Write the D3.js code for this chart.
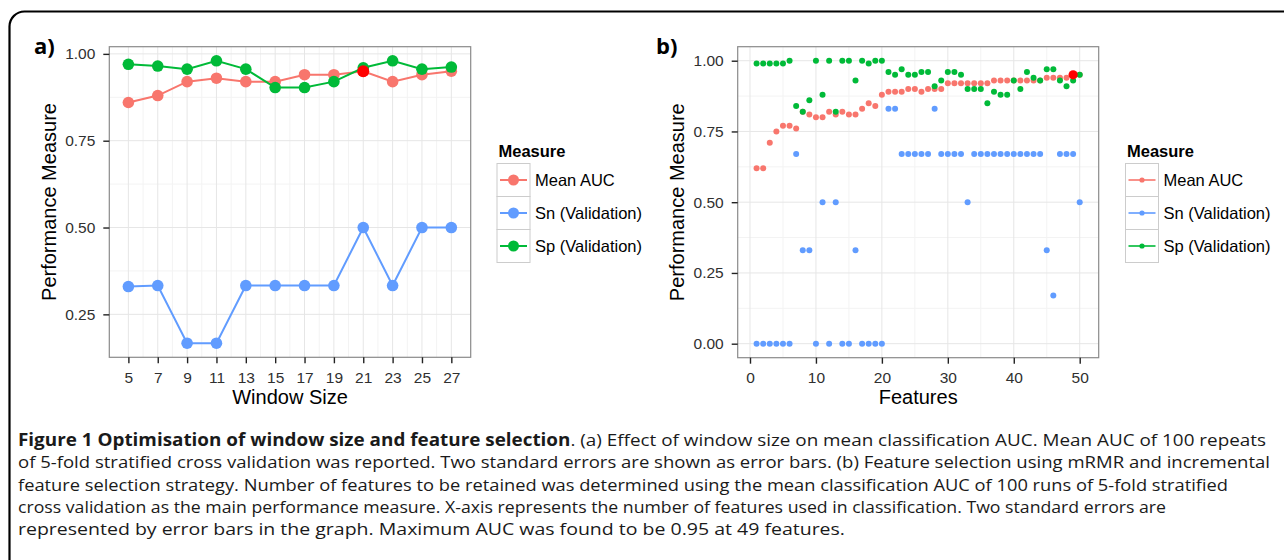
<!DOCTYPE html>
<html>
<head>
<meta charset="utf-8">
<script src="https://cdn.jsdelivr.net/npm/d3@7"></script>
<style>
  body { margin: 0; background: #fff; }
  svg { display: block; }
  text { font-family: "Liberation Sans", Arial, Helvetica, sans-serif; }
</style>
</head>
<body>
<div id="fig"></div>
<script>
// legend / series
const measures = ["Mean AUC", "Sn (Validation)", "Sp (Validation)"];
const colours = ["#F8766D", "#619CFF", "#00BA38"];

// panel a: window size
const windowSizes = [5, 7, 9, 11, 13, 15, 17, 19, 21, 23, 25, 27];
const windowAuc = [0.86, 0.88, 0.92, 0.93, 0.92, 0.92, 0.94, 0.94, 0.95, 0.92, 0.94, 0.95];
const windowSn = [0.33, 0.333, 0.167, 0.167, 0.333, 0.333, 0.333, 0.333, 0.5, 0.333, 0.5, 0.5];
const windowSp = [0.97, 0.965, 0.956, 0.98, 0.956, 0.903, 0.903, 0.92, 0.96, 0.98, 0.956, 0.962];
const bestWindow = 21;
const windowTicks = windowSizes;
const windowMinor = [6, 8, 10, 12, 14, 16, 18, 20, 22, 24, 26];

// panel b: feature selection
const features = [1, 2, 3, 4, 5, 6, 7, 8, 9, 10, 11, 12, 13, 14, 15, 16, 17, 18, 19, 20,
  21, 22, 23, 24, 25, 26, 27, 28, 29, 30, 31, 32, 33, 34, 35, 36, 37, 38, 39, 40,
  41, 42, 43, 44, 45, 46, 47, 48, 49, 50];
const featureAuc = [0.62, 0.62, 0.71, 0.75, 0.77, 0.77, 0.76, 0.82, 0.81, 0.80,
  0.80, 0.82, 0.81, 0.82, 0.81, 0.81, 0.83, 0.85, 0.84, 0.88,
  0.89, 0.89, 0.89, 0.90, 0.90, 0.89, 0.90, 0.90, 0.90, 0.92,
  0.92, 0.92, 0.92, 0.92, 0.92, 0.92, 0.93, 0.93, 0.93, 0.93,
  0.93, 0.93, 0.93, 0.93, 0.94, 0.94, 0.94, 0.94, 0.95, 0.95];
const featureSn = [0, 0, 0, 0, 0, 0, 0.67, 0.33, 0.33, 0,
  0.5, 0, 0.5, 0, 0, 0.33, 0, 0, 0, 0,
  0.83, 0.83, 0.67, 0.67, 0.67, 0.67, 0.67, 0.83, 0.67, 0.67,
  0.67, 0.67, 0.5, 0.67, 0.67, 0.67, 0.67, 0.67, 0.67, 0.67,
  0.67, 0.67, 0.67, 0.67, 0.33, 0.17, 0.67, 0.67, 0.67, 0.5];
const featureSp = [0.99, 0.99, 0.99, 0.99, 0.99, 1, 0.84, 0.82, 0.86, 1,
  0.88, 1, 0.82, 1, 1, 0.93, 1, 0.99, 1, 1,
  0.96, 0.95, 0.97, 0.95, 0.95, 0.96, 0.96, 0.91, 0.93, 0.96,
  0.96, 0.95, 0.90, 0.90, 0.90, 0.85, 0.89, 0.88, 0.88, 0.93,
  0.90, 0.96, 0.94, 0.93, 0.97, 0.97, 0.93, 0.91, 0.93, 0.95];
const bestFeatures = 49;
const featureTicks = [0, 10, 20, 30, 40, 50];
const featureMinor = [5, 15, 25, 35, 45];

const measureTicks = [0, 0.25, 0.5, 0.75, 1];
const measureMinor = [0.125, 0.375, 0.625, 0.875];

const captionLines = [
  [["Figure 1 Optimisation of window size and feature selection", true],
   [". (a) Effect of window size on mean classification AUC. Mean AUC of 100 repeats", false]],
  [["of 5-fold stratified cross validation was reported. Two standard errors are shown as error bars. (b) Feature selection using mRMR and incremental", false]],
  [["feature selection strategy. Number of features to be retained was determined using the mean classification AUC of 100 runs of 5-fold stratified", false]],
  [["cross validation as the main performance measure. X-axis represents the number of features used in classification. Two standard errors are", false]],
  [["represented by error bars in the graph. Maximum AUC was found to be 0.95 at 49 features.", false]]
];
const captionWidths = [1248, 1252, 1210, 1148, 827];

const fig = d3.select("#fig").append("svg")
    .attr("width", 1284)
    .attr("height", 560);

fig.append("rect")
    .attr("x", 9.5).attr("y", 11.5)
    .attr("width", 1320).attr("height", 620)
    .attr("rx", 15)
    .attr("fill", "none")
    .attr("stroke", "#000")
    .attr("stroke-width", 2.2);

function drawPanel(p) {
    const g = fig.append("g");
    const x = d3.scaleLinear().domain(p.xDomain).range([p.left, p.right]);
    const y = d3.scaleLinear().domain(p.yDomain).range([p.bottom, p.top]);
    const yIn = (v) => v >= p.yDomain[0] && v <= p.yDomain[1];

    g.append("rect")
        .attr("x", p.left).attr("y", p.top)
        .attr("width", p.right - p.left).attr("height", p.bottom - p.top)
        .attr("fill", "#fff");

    // grid
    g.selectAll(".xminor").data(p.xMinor).join("line")
        .attr("x1", d => x(d)).attr("x2", d => x(d))
        .attr("y1", p.top).attr("y2", p.bottom)
        .attr("stroke", "#f3f3f3").attr("stroke-width", 1);
    g.selectAll(".yminor").data(p.yMinor.filter(yIn)).join("line")
        .attr("x1", p.left).attr("x2", p.right)
        .attr("y1", d => y(d)).attr("y2", d => y(d))
        .attr("stroke", "#f3f3f3").attr("stroke-width", 1);
    g.selectAll(".xmajor").data(p.xTicks).join("line")
        .attr("x1", d => x(d)).attr("x2", d => x(d))
        .attr("y1", p.top).attr("y2", p.bottom)
        .attr("stroke", "#e6e6e6").attr("stroke-width", 1);
    g.selectAll(".ymajor").data(p.yTicks.filter(yIn)).join("line")
        .attr("x1", p.left).attr("x2", p.right)
        .attr("y1", d => y(d)).attr("y2", d => y(d))
        .attr("stroke", "#e6e6e6").attr("stroke-width", 1);

    // series
    p.series.forEach((s, i) => {
        const pts = p.xs.map((xv, j) => ({x: xv, y: s[j]}));
        if (p.lines) {
            g.append("path")
                .datum(pts)
                .attr("fill", "none")
                .attr("stroke", colours[i])
                .attr("stroke-width", 2)
                .attr("d", d3.line().x(d => x(d.x)).y(d => y(d.y)));
        }
        g.selectAll(null).data(pts).join("circle")
            .attr("cx", d => x(d.x)).attr("cy", d => y(d.y))
            .attr("r", p.r)
            .attr("fill", colours[i]);
    });
    const bi = p.xs.indexOf(p.best);
    g.append("circle")
        .attr("cx", x(p.best)).attr("cy", y(p.series[0][bi]))
        .attr("r", p.bestR)
        .attr("fill", "#ff0000");

    g.append("rect")
        .attr("x", p.left).attr("y", p.top)
        .attr("width", p.right - p.left).attr("height", p.bottom - p.top)
        .attr("fill", "none")
        .attr("stroke", "#8a8a8a").attr("stroke-width", 1.2);

    // axes
    const xAxis = g.append("g")
        .attr("transform", `translate(0, ${p.bottom})`)
        .call(d3.axisBottom(x).tickValues(p.xTicks).tickSize(6).tickPadding(8.5).tickFormat(d3.format("d")));
    const yAxis = g.append("g")
        .attr("transform", `translate(${p.left}, 0)`)
        .call(d3.axisLeft(y).tickValues(p.yTicks.filter(yIn)).tickSize(6).tickPadding(8).tickFormat(d3.format(".2f")));
    [xAxis, yAxis].forEach(a => {
        a.select(".domain").remove();
        a.selectAll(".tick line").attr("stroke", "#222").attr("stroke-width", 1.4);
        a.selectAll(".tick text")
            .attr("fill", "#303030")
            .style("font-size", "15.5px")
            .style("font-family", "'Liberation Sans', Arial, sans-serif");
    });

    g.append("text")
        .attr("x", (p.left + p.right) / 2).attr("y", 404)
        .attr("text-anchor", "middle")
        .style("font-size", "20px")
        .text(p.xTitle);
    g.append("text")
        .attr("transform", `translate(${p.left - 53.5}, ${(p.top + p.bottom) / 2}) rotate(-90)`)
        .attr("text-anchor", "middle")
        .style("font-size", "20px")
        .text("Performance Measure");

    g.append("text")
        .attr("x", p.labelX).attr("y", 54)
        .style("font-size", "22px").style("font-weight", "bold")
        .style("font-family", "'Open Sans', 'Liberation Sans', sans-serif")
        .text(p.label);

    // legend
    const lg = g.append("g").attr("transform", `translate(${p.legendX}, 0)`);
    lg.append("text")
        .attr("x", 1.5).attr("y", 157)
        .style("font-size", "16.5px").style("font-weight", "bold")
        .text("Measure");
    const key = 33;
    measures.forEach((m, i) => {
        const ky = 163.5 + i * key;
        lg.append("rect")
            .attr("x", 0).attr("y", ky).attr("width", key).attr("height", key)
            .attr("fill", "#fff").attr("stroke", "#cccccc").attr("stroke-width", 1);
        lg.append("line")
            .attr("x1", 3).attr("x2", key - 3)
            .attr("y1", ky + key / 2).attr("y2", ky + key / 2)
            .attr("stroke", colours[i]).attr("stroke-width", p.keyLine);
        lg.append("circle")
            .attr("cx", key / 2).attr("cy", ky + key / 2)
            .attr("r", p.keyR)
            .attr("fill", colours[i]);
        lg.append("text")
            .attr("x", key + 5).attr("y", ky + key / 2)
            .attr("dy", "0.36em")
            .style("font-size", "16.5px")
            .text(m);
    });
}

const windowVals = windowAuc.concat(windowSn, windowSp);
const wLo = d3.min(windowVals), wHi = d3.max(windowVals), wPad = (wHi - wLo) * 0.05;

drawPanel({
    left: 109.3, right: 470.7, top: 46.7, bottom: 357.3,
    xDomain: [3.7, 28.32], yDomain: [wLo - wPad, wHi + wPad],
    xs: windowSizes, series: [windowAuc, windowSn, windowSp],
    xTicks: windowTicks, xMinor: windowMinor,
    yTicks: measureTicks, yMinor: measureMinor,
    lines: true, r: 5.8, best: bestWindow, bestR: 6,
    xTitle: "Window Size", label: "a)", labelX: 34,
    legendX: 497, keyLine: 2, keyR: 5.5
});

drawPanel({
    left: 737.7, right: 1098.7, top: 46.7, bottom: 357.7,
    xDomain: [-1.865, 52.88], yDomain: [-0.0495, 1.0495],
    xs: features, series: [featureAuc, featureSn, featureSp],
    xTicks: featureTicks, xMinor: featureMinor,
    yTicks: measureTicks, yMinor: measureMinor,
    lines: false, r: 3, best: bestFeatures, bestR: 4.6,
    xTitle: "Features", label: "b)", labelX: 656,
    legendX: 1125.5, keyLine: 1.6, keyR: 2.6
});

// caption
const cap = fig.append("g");
captionLines.forEach((parts, i) => {
    const t = cap.append("text")
        .attr("x", 18).attr("y", 446 + i * 22.3)
        .attr("textLength", captionWidths[i])
        .attr("lengthAdjust", "spacingAndGlyphs")
        .style("font-family", "'Liberation Sans Narrow', 'Open Sans', sans-serif")
        .style("font-size", "17px")
        .attr("fill", "#1a1a1a");
    parts.forEach(([str, bold]) => {
        t.append("tspan").style("font-weight", bold ? "bold" : "normal").text(str);
    });
});
</script>
</body>
</html>
